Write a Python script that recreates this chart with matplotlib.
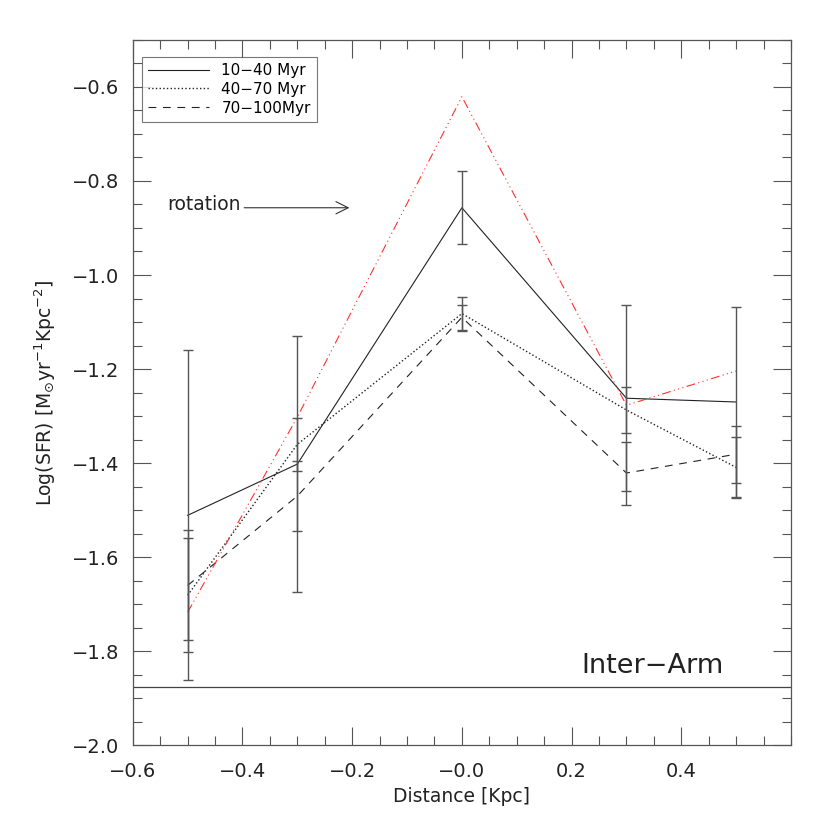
import matplotlib
matplotlib.use('Agg')
import matplotlib.pyplot as plt
from matplotlib.ticker import MultipleLocator

# distances along the arm [Kpc]
distance = [-0.5, -0.3, 0.0, 0.3, 0.5]

# Log(SFR) per age bin, with errors
sfr_10_40 = [-1.511, -1.402, -0.857, -1.262, -1.270]
err_10_40 = [0.351, 0.272, 0.078, 0.198, 0.202]

sfr_40_70 = [-1.681, -1.360, -1.082, -1.287, -1.409]
err_40_70 = [0.121, 0.057, 0.036, 0.048, 0.065]

sfr_70_100 = [-1.660, -1.470, -1.090, -1.421, -1.381]
err_70_100 = [0.117, 0.075, 0.026, 0.067, 0.061]

# red dash-dot-dot-dot curve (no errors)
sfr_red = [-1.717, -1.302, -0.621, -1.277, -1.204]

inter_arm = -1.875

xticks = [-0.6, -0.4, -0.2, 0.0, 0.2, 0.4]
xtick_labels = ['\u22120.6', '\u22120.4', '\u22120.2', '\u22120.0', '0.2', '0.4']
yticks = [-2.0, -1.8, -1.6, -1.4, -1.2, -1.0, -0.8, -0.6]

plt.rcParams['font.family'] = 'DejaVu Sans'

fig = plt.figure(figsize=(8.3, 8.3), dpi=100)
ax = fig.add_axes([0.160, 0.102, 0.793, 0.850])

lc = '#222222'
ec = '#555555'
lw = 0.8

ax.plot(distance, sfr_10_40, '-', color=lc, lw=lw, label='10\u221240 Myr')
ax.plot(distance, sfr_40_70, ':', color=lc, lw=lw + 0.2, label='40\u221270 Myr')
ax.plot(distance, sfr_70_100, '--', color=lc, lw=lw, dashes=(7, 6),
        label='70\u2212100Myr')
ax.plot(distance, sfr_red, color='#ff3030', lw=lw,
        dashes=(8, 3, 1, 3, 1, 3, 1, 3))

for vals, errs in [(sfr_10_40, err_10_40), (sfr_40_70, err_40_70),
                   (sfr_70_100, err_70_100)]:
    ax.errorbar(distance, vals, yerr=errs, fmt='none', ecolor=ec,
                elinewidth=1.0, capsize=3.5, capthick=1.0)

ax.axhline(inter_arm, color='#444444', lw=0.9)
ax.text(0.478, -1.831, 'Inter\u2212Arm', fontsize=19.5, ha='right',
        va='center', color='#222222')

ax.annotate('', xy=(-0.2, -0.857), xytext=(-0.402, -0.857),
            arrowprops=dict(arrowstyle='->', color='#333333', lw=0.8,
                            mutation_scale=22))
ax.text(-0.403, -0.851, 'rotation', fontsize=13.5, ha='right', va='center',
        color='#222222')

ax.set_xlim(-0.6, 0.6)
ax.set_ylim(-2.0, -0.5)
ax.set_xticks(xticks)
ax.set_xticklabels(xtick_labels)
ax.set_yticks(yticks)
ax.set_yticklabels(['\u2212%.1f' % abs(v) for v in yticks])
ax.xaxis.set_minor_locator(MultipleLocator(0.05))
ax.yaxis.set_minor_locator(MultipleLocator(0.05))
ax.tick_params(which='both', direction='in', top=True, right=True,
               color='#555555', labelsize=14, labelcolor='#222222')
ax.tick_params(which='major', length=13, width=0.8, pad=12)
ax.tick_params(which='minor', length=6.5, width=0.8)
ax.tick_params(axis='y', which='major', pad=10)
for s in ax.spines.values():
    s.set_color('#555555')
    s.set_linewidth(0.9)

ax.set_xlabel('Distance [Kpc]', fontsize=13.5, color='#222222', labelpad=4)
ax.set_ylabel(r'Log(SFR) [M$_{\odot}$yr$^{-1}$Kpc$^{-2}$]', fontsize=13.5,
              color='#222222', labelpad=10)

leg = ax.legend(loc='upper left', bbox_to_anchor=(0.014, 0.976),
                fontsize=11, frameon=True, fancybox=False, handlelength=4.0,
                borderpad=0.4, labelspacing=0.25, handletextpad=0.8,
                borderaxespad=0)
leg.get_frame().set_edgecolor('#555555')
leg.get_frame().set_linewidth(0.8)

fig.savefig('out.png', dpi=100)
